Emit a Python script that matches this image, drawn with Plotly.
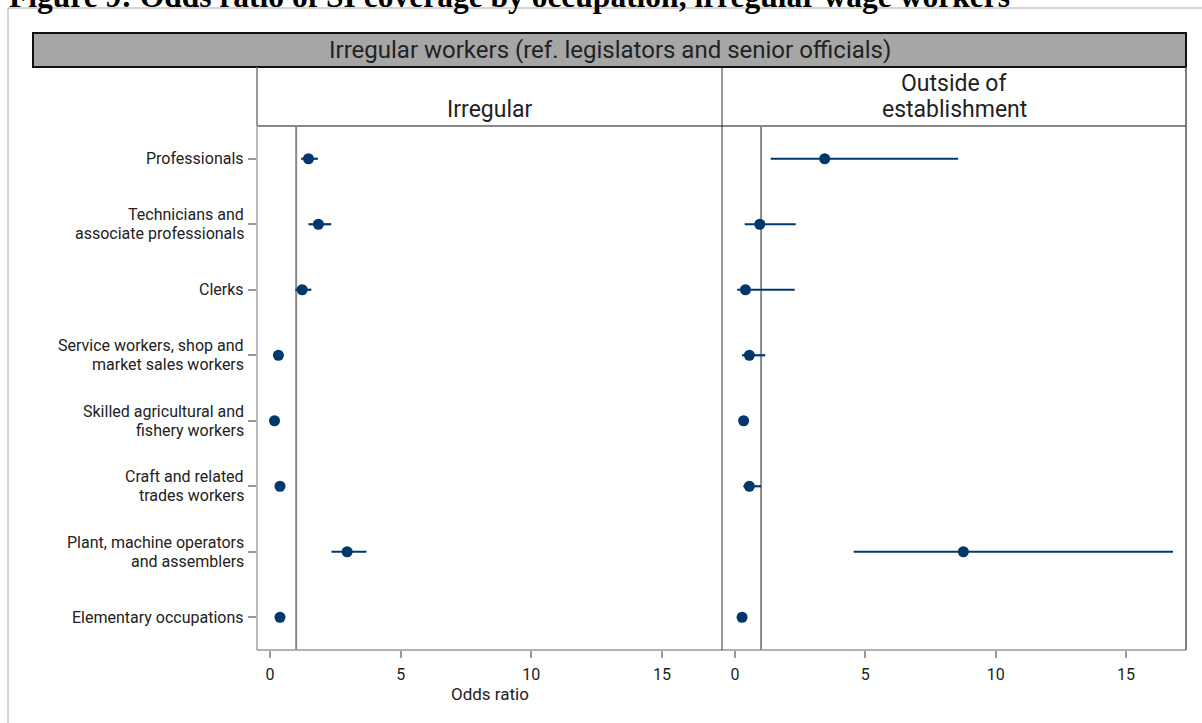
import plotly.graph_objects as go

# ---- data ----
categories = [
    "Professionals",
    "Technicians and<br>associate professionals",
    "Clerks",
    "Service workers, shop and<br>market sales workers",
    "Skilled agricultural and<br>fishery workers",
    "Craft and related<br>trades workers",
    "Plant, machine operators<br>and assemblers",
    "Elementary occupations",
]

irr_or = [1.47, 1.85, 1.23, 0.32, 0.17, 0.38, 2.95, 0.38]
irr_lo = [1.19, 1.47, 0.97, 0.25, 0.12, 0.30, 2.35, 0.30]
irr_hi = [1.83, 2.34, 1.58, 0.40, 0.22, 0.46, 3.69, 0.45]

out_or = [3.44, 0.95, 0.40, 0.55, 0.33, 0.55, 8.76, 0.27]
out_lo = [1.37, 0.37, 0.08, 0.27, 0.25, 0.32, 4.55, 0.18]
out_hi = [8.56, 2.33, 2.29, 1.16, 0.42, 1.00, 16.80, 0.40]

x_ticks = [0, 5, 10, 15]
panel_titles = ["Irregular", "Outside of<br>establishment"]
header_text = "Irregular workers (ref. legislators and senior officials)"
fig_title = "Figure 9: Odds ratio of SI coverage by occupation, irregular wage workers"
x_title = "Odds ratio"

# ---- layout helpers ----
W, H = 1202, 723
def px(x):
    return x / W
def py(y):
    return 1 - y / H

NAVY = "#00386b"
FONT = "Roboto"
TXT = "#222222"

fig = go.Figure()

def add_series(vals, lo, hi, xa, ya):
    plus = [h - v for v, h in zip(vals, hi)]
    minus = [v - l for v, l in zip(vals, lo)]
    fig.add_trace(go.Scatter(
        x=vals, y=categories, mode="markers",
        marker=dict(color=NAVY, size=11),
        error_x=dict(type="data", array=plus, arrayminus=minus,
                     color=NAVY, thickness=2.2, width=0, symmetric=False),
        xaxis=xa, yaxis=ya, showlegend=False, hoverinfo="x+y",
    ))

add_series(irr_or, irr_lo, irr_hi, "x", "y")
add_series(out_or, out_lo, out_hi, "x2", "y2")

xcommon = dict(range=[-0.5, 17.3], tickvals=x_ticks, ticks="outside", ticklen=7,
               tickcolor="#999", tickwidth=1.5, showline=False, showgrid=False,
               zeroline=False, ticklabelstandoff=3,
               tickfont=dict(family=FONT, size=16, color=TXT))
ycommon = dict(domain=[py(650), py(126)], type="category", range=[7.5, -0.5],
               showgrid=False, zeroline=False, showline=False)

fig.update_layout(
    width=W, height=H, margin=dict(l=0, r=0, t=0, b=0),
    paper_bgcolor="white", plot_bgcolor="white",
    xaxis=dict(domain=[px(257), px(722)], anchor="y", **xcommon),
    xaxis2=dict(domain=[px(722), px(1186)], anchor="y2", **xcommon),
    yaxis=dict(anchor="x", ticks="outside", ticklen=8, tickcolor="#999", tickwidth=1.5,
               showticklabels=False, **ycommon),
    yaxis2=dict(anchor="x2", matches="y", showticklabels=False, ticks="", **ycommon),
)

shapes = []
def pline(x0, y0, x1, y1, color, width):
    shapes.append(dict(type="line", xref="paper", yref="paper",
                       x0=px(x0), y0=py(y0), x1=px(x1), y1=py(y1),
                       line=dict(color=color, width=width), layer="above"))

# outer frame
shapes.append(dict(type="rect", xref="paper", yref="paper",
                   x0=px(8), y0=py(8), x1=px(1215), y1=py(740),
                   line=dict(color="#aaaaaa", width=1), fillcolor="rgba(0,0,0,0)"))
# header band
shapes.append(dict(type="rect", xref="paper", yref="paper",
                   x0=px(33), y0=py(33), x1=px(1186), y1=py(67),
                   line=dict(color="#111", width=2), fillcolor="#a6a6a6"))
# panel header boxes / frames
pline(257, 67, 257, 126, "#777", 1.5)
pline(257, 126, 1186, 126, "#888", 2)
pline(257, 126, 257, 650, "#bbbbbb", 2)
pline(257, 650, 1186, 650, "#999", 1.5)
pline(722, 67, 722, 650, "#333", 1)
pline(1186, 67, 1186, 650, "#555", 1.5)

# reference lines at OR = 1
for xa in ["x", "x2"]:
    shapes.append(dict(type="line", xref=xa, yref="paper", x0=1, x1=1,
                       y0=py(650), y1=py(126), line=dict(color="#888", width=2),
                       layer="below"))

fig.update_layout(shapes=shapes)

annotations = [
    dict(text="<b>" + fig_title + "</b>", x=px(7), y=py(-4), xanchor="left", yanchor="middle",
         xref="paper", yref="paper",
         font=dict(family="Liberation Serif", size=31.5, color="#000")),
    dict(text=header_text, x=px(609.5), y=py(50), xanchor="center", yanchor="middle",
         xref="paper", yref="paper", font=dict(family=FONT, size=24, color=TXT)),
    dict(text=x_title, x=px(489.5), y=py(694), xanchor="center", yanchor="middle",
         xref="paper", yref="paper", font=dict(family=FONT, size=17, color=TXT)),
]

# panel titles (lines stacked with compact spacing, last line at bottom of header box)
for title, cx in zip(panel_titles, [489.5, 954]):
    lines = title.split("<br>")
    n = len(lines)
    for i, line in enumerate(lines):
        yy = 109 - (n - 1 - i) * 26
        annotations.append(dict(text=line, x=px(cx), y=py(yy), xanchor="center",
                                yanchor="middle", xref="paper", yref="paper",
                                font=dict(family=FONT, size=23, color=TXT)))

# category labels placed at the y-axis category positions
for cat in categories:
    lines = cat.split("<br>")
    n = len(lines)
    for i, line in enumerate(lines):
        shift = ((n - 1) / 2 - i) * 19
        annotations.append(dict(text=line, x=px(246), y=cat, xref="paper", yref="y",
                                xanchor="right", yanchor="middle", yshift=shift,
                                font=dict(family=FONT, size=16, color=TXT)))

for a in annotations:
    a.update(showarrow=False)
fig.update_layout(annotations=annotations)

fig.write_html("out.html", config={"displayModeBar": False},
               post_script="document.body.style.margin='0px';")
